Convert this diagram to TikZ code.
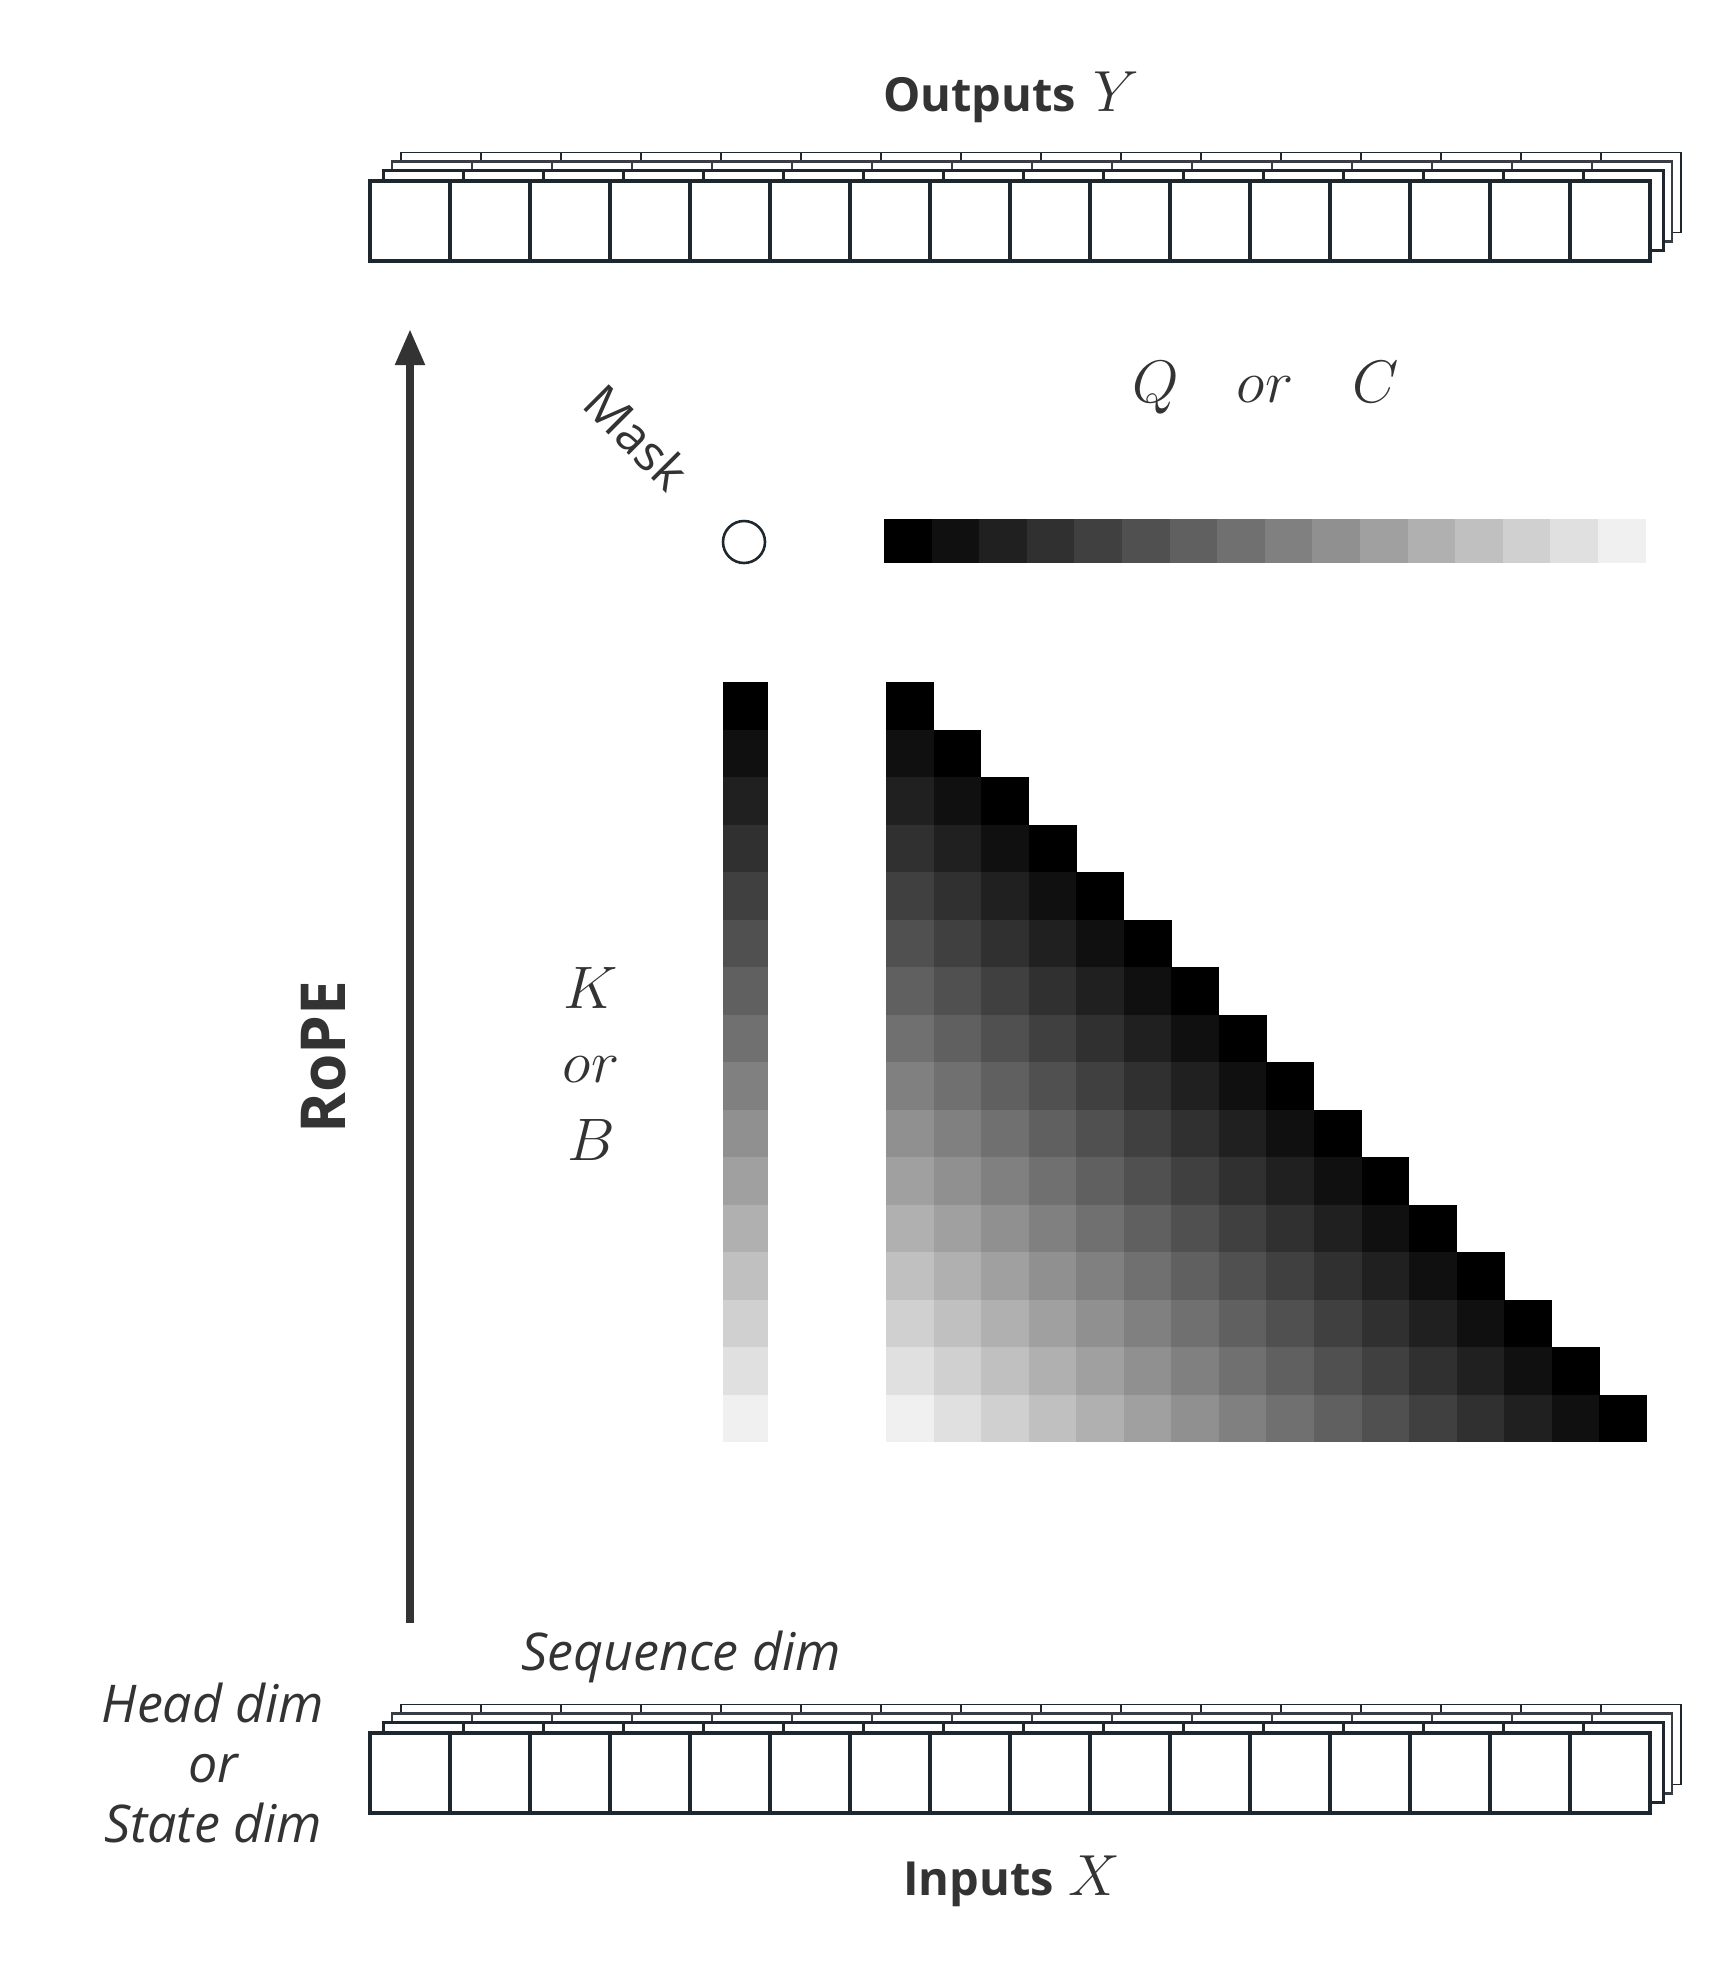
\RequirePackage{fix-cm}
\documentclass[tikz,border=0pt]{standalone}
\usepackage{fontspec}
\newfontfamily\osans{Open Sans}
\usetikzlibrary{arrows.meta}
\definecolor{txt}{HTML}{333333}
\definecolor{boxc}{HTML}{1F272E}
\newcommand\fs[1]{\fontsize{#1}{#1}\selectfont}
\tikzset{
  front/.style={draw=boxc, line width=3.3pt, fill=white},
  backa/.style={draw=boxc, line width=3pt, fill=white},
  backb/.style={draw=boxc!75!gray, line width=2.2pt, fill=white},
  backc/.style={draw=boxc, line width=1.8pt, fill=white},
  lbl/.style={text=txt, inner sep=0pt},
}
\newcommand\stackrow[3]{%
  \draw[#3] (#1,#2) rectangle ++(1280,80);
  \foreach \k in {1,...,15} {\draw[#3] (#1+\k*80,#2) -- ++(0,80);}
}
\begin{document}
\begin{tikzpicture}[x=1pt,y=-1pt]
\useasboundingbox (0,0) rectangle (1730,1968);
\fill[white] (0,0) rectangle (1730,1968);

% top stacked boxes (outputs)
\stackrow{401}{152.5}{backc}
\stackrow{392}{161.5}{backb}
\stackrow{383}{170.5}{backa}
\stackrow{370}{181}{front}

% bottom stacked boxes (inputs)
\stackrow{401}{1704.5}{backc}
\stackrow{392}{1713.5}{backb}
\stackrow{383}{1722.5}{backa}
\stackrow{370}{1733}{front}

% labels
\node[lbl, anchor=base west] (outlbl) at (883,111) {\osans\bfseries\fs{47}Outputs};
\node[lbl, anchor=base west] (ylbl) at (1093,111) {\fs{58}$Y$};
\node[lbl, anchor=base west] (inlbl) at (903,1895) {\osans\bfseries\fs{47}Inputs};
\node[lbl, anchor=base west] (xlbl) at (1068,1895) {\fs{58}$X$};
\node[lbl, anchor=base west] (seqlbl) at (521,1670) {\osans\itshape\fs{52}Sequence dim};
\node[lbl, anchor=base] (hd1) at (213,1722) {\osans\itshape\fs{52}Head dim};
\node[lbl, anchor=base] (hd2) at (213,1782) {\osans\itshape\fs{52}or};
\node[lbl, anchor=base] (hd3) at (213,1842) {\osans\itshape\fs{52}State dim};
\node[lbl, rotate=90] (rope) at (324,1057) {\osans\bfseries\fs{62}RoPE};
\node[lbl, rotate=-45] (masklbl) at (637,437) {\osans\fs{50}Mask};

\node[lbl, anchor=base] (qlbl) at (1156,402) {\fs{60}$Q$};
\node[lbl, anchor=base] (qor) at (1265,402) {\fs{60}$or$};
\node[lbl, anchor=base] (clbl) at (1376,402) {\fs{60}$C$};
\node[lbl, anchor=base] (klbl) at (591,1008) {\fs{60}$K$};
\node[lbl, anchor=base] (kor) at (591,1082) {\fs{60}$or$};
\node[lbl, anchor=base] (blbl) at (591,1160) {\fs{60}$B$};

% mask circle
\node[circle, draw=boxc, line width=2.6pt, minimum size=42pt, inner sep=0pt] (mask) at (744,542) {};

% RoPE arrow
\coordinate (arrS) at (410,1623);
\coordinate (arrE) at (410,329);
\draw[txt, line width=8pt, -{Triangle[length=36pt,width=28pt]}] (arrS) -- (arrE);

% top colour bar
\foreach \i in {0,...,15} {
  \pgfmathsetmacro\w{\i*16/2.55}
  \fill[white!\w!black] (884+\i*47.6,519) rectangle ++(47.9,44);
}
% left colour bar
\foreach \i in {0,...,15} {
  \pgfmathsetmacro\w{\i*16/2.55}
  \fill[white!\w!black] (723,682+\i*47.5) rectangle ++(45,47.8);
}
% triangle
\foreach \r in {0,...,15} {
  \foreach \c in {0,...,\r} {
    \pgfmathsetmacro\w{(\r-\c)*16/2.55}
    \fill[white!\w!black] (886+\c*47.56,682+\r*47.5) rectangle ++(47.86,47.8);
  }
}
\end{tikzpicture}
\end{document}
